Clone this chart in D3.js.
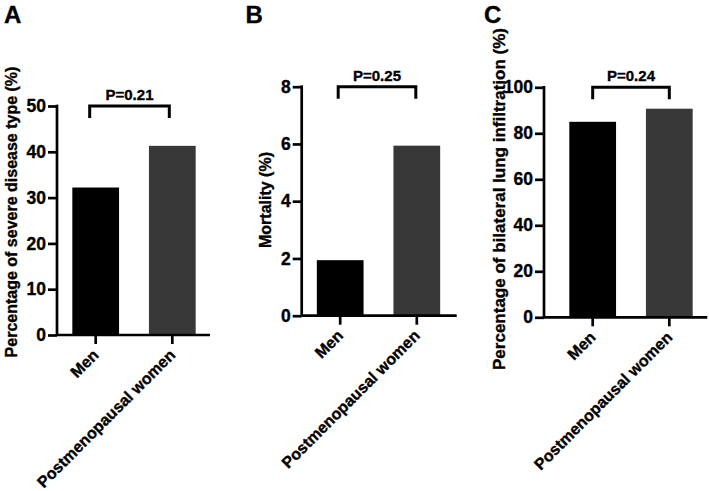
<!DOCTYPE html>
<html>
<head>
<meta charset="utf-8">
<script src="https://cdn.jsdelivr.net/npm/d3@7"></script>
<style>
  html, body { margin: 0; padding: 0; background: #fff; }
  svg { display: block; }
  text { font-family: "Liberation Sans", Arial, Helvetica, sans-serif; font-weight: bold; fill: #000; stroke: #000; stroke-width: 0.35px; }
</style>
</head>
<body>
<svg id="chart" width="709" height="491"></svg>
<script>
// ---- Data ----
const categories = ["Men", "Postmenopausal women"];
const barColors = ["#000000", "#383838"];

const panelLetters = ["A", "B", "C"];
const yTitles = [
  "Percentage of severe disease type (%)",
  "Mortality (%)",
  "Percentage of bilateral lung infiltration (%)"
];
const severeValues = [32.2, 41.3];
const mortalityValues = [1.94, 5.94];
const bilateralValues = [85.0, 90.7];

const severeTicks = [0, 10, 20, 30, 40, 50];
const mortalityTicks = [0, 2, 4, 6, 8];
const bilateralTicks = [0, 20, 40, 60, 80, 100];

const pLabels = ["P=0.21", "P=0.25", "P=0.24"];

// ---- Layout (pixel positions only) ----
const layouts = [
  { axisX: 57,    xEnd: 210,   bandL: 57,    bandR: 211,   y0: 335,   yTop: 106,  letterX: 4,     titleX: 17,    titleY: 212, titleSize: 16, bracketShift: -6, pY: 99.5 },
  { axisX: 301.7, xEnd: 456.7, bandL: 301.5, bandR: 455.5, y0: 315.7, yTop: 86.7, letterX: 245.5, titleX: 270.5, titleY: 200, titleSize: 16, bracketShift: -2, pY: 80.5 },
  { axisX: 544,   xEnd: 707.3, bandL: 554,   bandR: 708,   y0: 317.3, yTop: 87.3, letterX: 484,   titleX: 504.5, titleY: 199, titleSize: 17, bracketShift: 0,  pY: 80.5 }
];

const valuesList = [severeValues, mortalityValues, bilateralValues];
const ticksList = [severeTicks, mortalityTicks, bilateralTicks];

const svg = d3.select("#chart");
const SW = 2.7;

valuesList.forEach((values, i) => {
  const L = layouts[i];
  const ticks = ticksList[i];
  const g = svg.append("g");

  const x = d3.scaleBand()
    .domain(categories)
    .range([L.bandL, L.bandR])
    .paddingInner(0.39)
    .paddingOuter(0.2);

  const y = d3.scaleLinear()
    .domain([0, d3.max(ticks)])
    .range([L.y0, L.yTop]);

  // bars
  g.selectAll("rect.bar")
    .data(values)
    .enter().append("rect")
    .attr("class", "bar")
    .attr("x", (d, j) => x(categories[j]))
    .attr("width", x.bandwidth())
    .attr("y", d => y(d))
    .attr("height", d => y(0) - y(d))
    .attr("fill", (d, j) => barColors[j]);

  // y axis
  const yAxis = d3.axisLeft(y)
    .tickValues(ticks)
    .tickSize(9)
    .tickPadding(2)
    .tickFormat(d3.format("d"));
  const ya = g.append("g")
    .attr("transform", `translate(${L.axisX},0)`)
    .call(yAxis);
  ya.select(".domain").remove();
  ya.selectAll(".tick line").attr("stroke", "#000").attr("stroke-width", SW);
  ya.selectAll(".tick text")
    .style("font-size", "17.5px")
    .style("font-family", "'Liberation Sans', Arial, sans-serif")
    .style("font-weight", "bold")
    .attr("fill", "#000");
  g.append("line")
    .attr("x1", L.axisX).attr("x2", L.axisX)
    .attr("y1", y(d3.max(ticks)) - SW / 2).attr("y2", L.y0)
    .attr("stroke", "#000").attr("stroke-width", SW);

  // x axis
  g.append("line")
    .attr("x1", L.axisX).attr("x2", L.xEnd)
    .attr("y1", L.y0).attr("y2", L.y0)
    .attr("stroke", "#000").attr("stroke-width", SW);
  const xAxis = d3.axisBottom(x).tickSize(9).tickFormat("");
  const xa = g.append("g")
    .attr("transform", `translate(0,${L.y0})`)
    .call(xAxis);
  xa.select(".domain").remove();
  xa.selectAll(".tick line").attr("stroke", "#000").attr("stroke-width", SW);

  // category labels
  g.selectAll("text.cat")
    .data(categories)
    .enter().append("text")
    .attr("class", "cat")
    .attr("text-anchor", "end")
    .attr("transform", d => `translate(${x(d) + x.bandwidth() / 2 + 4},${L.y0 + 21}) rotate(-45)`)
    .style("font-size", "16px")
    .text(d => d);

  // y title
  g.append("text")
    .attr("text-anchor", "middle")
    .attr("transform", `translate(${L.titleX},${L.titleY}) rotate(-90)`)
    .style("font-size", L.titleSize + "px")
    .text(yTitles[i]);

  // panel letter
  g.append("text")
    .attr("x", L.letterX).attr("y", 23.3)
    .style("font-size", "24px")
    .text(panelLetters[i]);

  // significance bracket
  const cx1 = x(categories[0]) + x.bandwidth() / 2 + L.bracketShift;
  const cx2 = x(categories[1]) + x.bandwidth() / 2 + L.bracketShift / 2;
  const by = y(d3.max(ticks));
  const legs = 12;
  g.append("path")
    .attr("d", `M${cx1},${by + legs}V${by}H${cx2}V${by + legs}`)
    .attr("fill", "none")
    .attr("stroke", "#000")
    .attr("stroke-width", SW + 0.3)
    .attr("stroke-linejoin", "miter");
  g.append("text")
    .attr("x", (cx1 + cx2) / 2)
    .attr("y", L.pY)
    .attr("text-anchor", "middle")
    .style("font-size", "15px")
    .text(pLabels[i]);
});
</script>
</body>
</html>
